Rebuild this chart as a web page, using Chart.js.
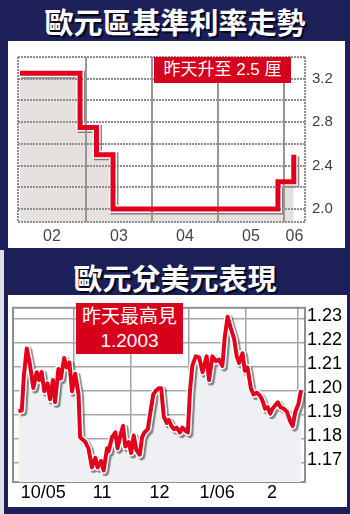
<!DOCTYPE html>
<html>
<head>
<meta charset="utf-8">
<script src="https://cdn.jsdelivr.net/npm/chart.js@4"></script>
<style>
html,body{margin:0;padding:0;}
body{width:350px;height:514px;position:relative;background:#1c1f58;overflow:hidden;font-family:"Liberation Sans","Noto Sans CJK TC",sans-serif;}
.strip{position:absolute;left:0;top:250px;width:4px;height:264px;background:#dfe1ea;}
.title{position:absolute;left:0;width:350px;text-align:center;color:#fff;font-family:"Noto Sans CJK TC",sans-serif;font-weight:700;font-size:29px;line-height:29px;text-shadow:2px 2px 0 #05061e;}
.panel{position:absolute;background:#fff;}
.box{position:absolute;background:#d6001c;color:#fff;text-align:center;font-family:"Liberation Sans","Noto Sans CJK TC",sans-serif;}
canvas{position:absolute;}
</style>
</head>
<body>
<div class="strip"></div>
<div class="title" style="top:7px;">歐元區基準利率走勢</div>
<div class="panel" style="left:8px;top:41px;width:337px;height:207px;"></div>
<canvas id="rate" width="337" height="207" style="left:8px;top:41px;"></canvas>
<div class="box" style="left:154px;top:57px;width:137px;height:26px;font-size:17px;line-height:26px;">昨天升至 2.5 厘</div>

<div class="title" style="top:263px;">歐元兌美元表現</div>
<div class="panel" style="left:8px;top:295px;width:339px;height:212px;"></div>
<canvas id="fx" width="339" height="212" style="left:8px;top:295px;"></canvas>
<div class="box" style="left:76px;top:303px;width:107px;height:51px;font-size:19px;line-height:24px;padding-top:2px;box-sizing:border-box;">昨天最高見<br>1.2003</div>

<script>
// ---- Euro-zone policy rate (step changes) ----
const rateYears  = [2002.0, 2002.91, 2003.16, 2003.41, 2005.91, 2006.15];
const rateValues = [3.25, 2.75, 2.5, 2.0, 2.25, 2.5];
const rateYearStarts = [2003, 2004, 2005, 2006];
const rateYearLabels = ['02', '03', '04', '05', '06'];
const rateGridValues = [2.0, 2.2, 2.4, 2.6, 2.8, 3.0, 3.2];
const rateLabelValues = [2.0, 2.4, 2.8, 3.2];

// ---- EUR/USD (trading-day index from early Oct 2005) ----
const fxDays = [0, 1.3, 2.1, 3.2, 4.5, 5.7, 7.0, 8.0, 8.9, 9.9, 11.1, 12.1, 13.2, 14.0, 15.3, 16.2, 17.5, 18.5, 19.5, 20.5,
  21.7, 23.0, 23.6, 25.6, 26.8, 28.1, 29.4, 30.3, 31.6, 32.6, 33.9, 34.5, 35.8, 37.1, 37.9, 39.0, 40.0, 40.9, 42.2, 43.1,
  44.1, 45.1, 46.4, 47.3, 48.2, 49.5, 50.5, 51.6, 52.4, 53.7, 54.6, 55.6, 56.7, 57.5, 58.5, 59.5, 60.5, 61.8, 62.7, 63.9,
  64.8, 65.6, 66.5, 67.8, 69.1, 70.4, 72.0, 72.9, 74.2, 75.5, 76.7, 78.0, 78.9, 80.0, 81.2, 82.5, 83.5, 84.4, 85.7, 86.6,
  87.6, 88.9, 89.9, 91.2, 92.5, 93.4, 94.3, 95.3, 96.3, 97.2, 98.1, 99.2, 100.2, 101.5, 102.7, 104.0, 104.9, 105.9, 107.1, 108.1];
const fxValues = [1.1916, 1.1918, 1.2064, 1.2177, 1.2104, 1.2012, 1.2078, 1.2045, 1.2078, 1.1998, 1.2031, 1.1965, 1.2045, 1.1952, 1.2091, 1.2051, 1.2137, 1.2098, 1.2118, 1.1998,
  1.2071, 1.1985, 1.1806, 1.1786, 1.1759, 1.1680, 1.1720, 1.1680, 1.1707, 1.1667, 1.1760, 1.1747, 1.1806, 1.1826, 1.1760, 1.1813, 1.1853, 1.1767, 1.1786, 1.1740,
  1.1813, 1.1753, 1.1733, 1.1806, 1.1826, 1.1840, 1.1912, 1.1985, 1.1998, 1.2011, 1.2011, 1.1892, 1.1866, 1.1879, 1.1853, 1.1840, 1.1846, 1.1826, 1.1846, 1.1833,
  1.1826, 1.1998, 1.2104, 1.2144, 1.2140, 1.2078, 1.2144, 1.2045, 1.2144, 1.2124, 1.2131, 1.2104, 1.2223, 1.2310, 1.2263, 1.2217, 1.2144, 1.2117, 1.2157, 1.2084,
  1.2098, 1.2011, 1.1985, 1.1992, 1.1978, 1.1958, 1.1925, 1.1932, 1.1905, 1.1925, 1.1938, 1.1952, 1.1932, 1.1925, 1.1912, 1.1872, 1.1853, 1.1912, 1.1945, 1.2003];
const fxMonthStarts = [21, 43, 65, 87, 107];
const fxMonthLabels = ['10/05', '11', '12', '1/06', '2'];
const fxTickValues = [1.17, 1.18, 1.19, 1.20, 1.21, 1.22, 1.23];

function bandTicks(min, max, starts, labels) {
  const edges = [min, ...starts, max];
  const t = [];
  starts.forEach(v => t.push({value: v, lbl: '', grid: true}));
  labels.forEach((l, i) => t.push({value: (edges[i] + edges[i + 1]) / 2, lbl: l, grid: false}));
  return t.sort((a, b) => a.value - b.value);
}

function dottedH(ctx, x1, x2, y) {
  for (let x = x1; x <= x2 - 1; x += 3) ctx.fillRect(x, y - 1, 2, 2);
}
function dottedV(ctx, x, y1, y2) {
  for (let y = y1; y <= y2 - 1; y += 3) ctx.fillRect(x - 1, y, 2, 2);
}

// Top chart: dotted horizontal grid + solid year lines + dotted frame,
// drawn after the fill and the white halo, just before the red line
const HALO_INDEX = 1;
const rateGridPlugin = {
  id: 'rateGrid',
  afterDatasetDraw(chart, args) {
    if (args.index !== HALO_INDEX) return;
    const ctx = chart.ctx, a = chart.chartArea, ys = chart.scales.y, xs = chart.scales.x;
    const L = Math.round(a.left), R = Math.round(a.right), T = Math.round(a.top), B = Math.round(a.bottom);
    ctx.save();
    ctx.shadowColor = 'rgba(0,0,0,0)';
    ctx.fillStyle = '#8e8e8e';
    rateGridValues.forEach(v => dottedH(ctx, L, R, Math.round(ys.getPixelForValue(v))));
    ctx.fillStyle = '#9c948e';
    rateYearStarts.forEach(v => ctx.fillRect(Math.round(xs.getPixelForValue(v)) - 1, T, 2, B - T));
    ctx.fillStyle = '#8e8e8e';
    dottedH(ctx, L, R + 1, T);
    dottedH(ctx, L, R + 1, B);
    dottedV(ctx, L, T, B);
    dottedV(ctx, R, T, B);
    ctx.restore();
  }
};

// Bottom chart: solid frame
const fxFramePlugin = {
  id: 'fxFrame',
  beforeDatasetsDraw(chart) {
    const ctx = chart.ctx, a = chart.chartArea;
    ctx.save();
    ctx.strokeStyle = '#8f8f8f';
    ctx.lineWidth = 2;
    ctx.strokeRect(a.left, a.top, a.right - a.left, a.bottom - a.top);
    ctx.restore();
  }
};

function makeShadow(id, index, color, d, blur) {
  return {
    id,
    beforeDatasetDraw(chart, args) {
      if (args.index !== index) return;
      const c = chart.ctx;
      c.save();
      c.shadowColor = color; c.shadowOffsetX = d; c.shadowOffsetY = d; c.shadowBlur = blur;
    },
    afterDatasetDraw(chart, args) {
      if (args.index !== index) return;
      chart.ctx.restore();
    }
  };
}

const RED = '#e2001d';

// ---------- Top chart ----------
const ratePts = rateYears.map((x, i) => ({x, y: rateValues[i]}));
const rxMin = 2001.97, rxMax = 2006.32;
new Chart(document.getElementById('rate'), {
  type: 'line',
  data: {
    datasets: [
      {data: ratePts, stepped: true, borderColor: RED, borderWidth: 5, pointRadius: 0, fill: false, order: 0},
      {data: ratePts, stepped: true, borderColor: '#ffffff', borderWidth: 8, pointRadius: 0, fill: false, order: 1},
      {data: ratePts, stepped: true, borderWidth: 0, borderColor: 'rgba(0,0,0,0)', backgroundColor: '#e6e1de', pointRadius: 0, fill: 'start', order: 2}
    ]
  },
  options: {
    responsive: false, animation: false, devicePixelRatio: 1,
    layout: {padding: {left: 10, top: 9, right: 0, bottom: 0}},
    plugins: {legend: {display: false}, tooltip: {enabled: false}},
    scales: {
      x: {
        type: 'linear', min: rxMin, max: rxMax,
        afterBuildTicks: s => { s.ticks = bandTicks(rxMin, rxMax, rateYearStarts, rateYearLabels); },
        afterFit: s => { s.height = 26; },
        ticks: {autoSkip: false, maxRotation: 0, padding: 5, color: '#454545',
          font: {family: 'Liberation Sans', size: 16},
          callback: (v, i, t) => t[i].lbl},
        grid: {display: false, drawTicks: false},
        border: {display: false}
      },
      y: {
        type: 'linear', position: 'right', min: 1.88, max: 3.4,
        afterBuildTicks: s => { s.ticks = rateGridValues.map(v => ({value: v})); },
        afterFit: s => { s.width = 40; },
        ticks: {autoSkip: false, padding: 7, color: '#3c3c3c',
          font: {family: 'Liberation Sans', size: 15},
          callback: v => rateLabelValues.some(l => Math.abs(l - v) < 1e-6) ? v.toFixed(1) : ''},
        grid: {display: false, drawTicks: false},
        border: {display: false}
      }
    }
  },
  plugins: [makeShadow('rateShadow', 1, 'rgba(40,40,40,0.55)', 1.5, 0), rateGridPlugin]
});

// ---------- Bottom chart ----------
const fxPts = fxDays.map((x, i) => ({x, y: fxValues[i]}));
const fxMin = -2.07, fxMax = 109.6;
new Chart(document.getElementById('fx'), {
  type: 'line',
  data: {
    datasets: [
      {data: fxPts, borderColor: RED, borderWidth: 4, pointRadius: 0, fill: false, tension: 0, borderJoinStyle: 'round', order: 0},
      {data: fxPts, borderColor: '#ffffff', borderWidth: 7, pointRadius: 0, fill: false, tension: 0, borderJoinStyle: 'round', order: 1},
      {data: fxPts, borderWidth: 0, borderColor: 'rgba(0,0,0,0)', backgroundColor: '#eef0f3', pointRadius: 0, fill: 'start', order: 2}
    ]
  },
  options: {
    responsive: false, animation: false, devicePixelRatio: 1,
    layout: {padding: {left: 5, top: 4, right: 0, bottom: 0}},
    plugins: {legend: {display: false}, tooltip: {enabled: false}},
    scales: {
      x: {
        type: 'linear', min: fxMin, max: fxMax,
        afterBuildTicks: s => { s.ticks = bandTicks(fxMin, fxMax, fxMonthStarts, fxMonthLabels); },
        afterFit: s => { s.height = 25; },
        ticks: {autoSkip: false, maxRotation: 0, padding: 0, color: '#000',
          font: {family: 'Liberation Sans', size: 18},
          callback: (v, i, t) => t[i].lbl},
        grid: {drawTicks: false, lineWidth: 1.5,
          color: c => (c.tick && c.tick.grid) ? '#a3a3a3' : 'rgba(0,0,0,0)'},
        border: {display: false}
      },
      y: {
        type: 'linear', position: 'right', min: 1.1619, max: 1.2347,
        afterBuildTicks: s => { s.ticks = fxTickValues.map(v => ({value: v})); },
        afterFit: s => { s.width = 42; },
        ticks: {autoSkip: false, padding: 2, labelOffset: -3, color: '#000',
          font: {family: 'Liberation Sans', size: 18},
          callback: v => v.toFixed(2)},
        grid: {drawTicks: false, lineWidth: 1.5, color: '#a8a8a8'},
        border: {display: false}
      }
    }
  },
  plugins: [fxFramePlugin, makeShadow('fxShadow', 1, 'rgba(60,60,60,0.6)', 2, 1)]
});
</script>
</body>
</html>
